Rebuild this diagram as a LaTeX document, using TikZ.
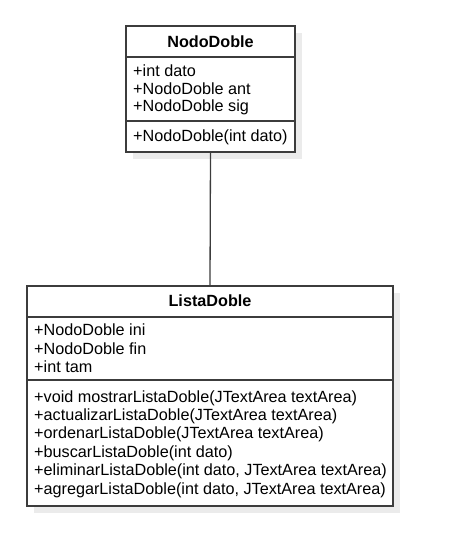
\documentclass[tikz,border=0pt]{standalone}
\usepackage{fontspec}
\setmainfont{Liberation Sans}
\usetikzlibrary{shadows}
\definecolor{edge}{HTML}{3C3C3C}
\definecolor{shade}{HTML}{EBEBEB}
\begin{document}
\begin{tikzpicture}[x=1pt,y=-1pt,
  box/.style={draw=edge, line width=1.3pt, fill=white, inner sep=0pt,
    drop shadow={shadow xshift=7pt, shadow yshift=-7pt, fill=shade, opacity=1}},
  title/.style={font=\fontsize{16.2}{18}\selectfont\bfseries, inner sep=0pt},
  member/.style={font=\fontsize{16.2}{18}\selectfont, anchor=west, inner sep=0pt},
  sep/.style={draw=edge, line width=1.3pt}]
\useasboundingbox (0,0) rectangle (460,553);
% NodoDoble
\node[box, minimum width=169pt, minimum height=126pt] (nodo) at (210.5,89) {};
\node[title] (nt) at (210.5,42) {NodoDoble};
\coordinate (n1a) at (126,57); \coordinate (n1b) at (295,57);
\coordinate (n2a) at (126,121); \coordinate (n2b) at (295,121);
\draw[sep] (n1a) -- (n1b);
\draw[sep] (n2a) -- (n2b);
\node[member] (na1) at (133,71) {+int dato};
\node[member] (na2) at (133,89) {+NodoDoble ant};
\node[member] (na3) at (133,107) {+NodoDoble sig};
\node[member] (nm1) at (133,137) {+NodoDoble(int dato)};
% ListaDoble
\node[box, minimum width=366pt, minimum height=220pt] (lista) at (210,396) {};
\node[title] (lt) at (210,301) {ListaDoble};
\coordinate (l1a) at (27,317); \coordinate (l1b) at (393,317);
\coordinate (l2a) at (27,380); \coordinate (l2b) at (393,380);
\draw[sep] (l1a) -- (l1b);
\draw[sep] (l2a) -- (l2b);
\node[member] (la1) at (34,330) {+NodoDoble ini};
\node[member] (la2) at (34,349) {+NodoDoble fin};
\node[member] (la3) at (34,367) {+int tam};
\node[member] (lm1) at (34,398) {+void mostrarListaDoble(JTextArea textArea)};
\node[member] (lm2) at (34,416.4) {+actualizarListaDoble(JTextArea textArea)};
\node[member] (lm3) at (34,434.8) {+ordenarListaDoble(JTextArea textArea)};
\node[member] (lm4) at (34,453.2) {+buscarListaDoble(int dato)};
\node[member] (lm5) at (34,471.6) {+eliminarListaDoble(int dato, JTextArea textArea)};
\node[member] (lm6) at (34,490) {+agregarListaDoble(int dato, JTextArea textArea)};
% connector
\draw[sep] (nodo.south) -- (lista.north);
\end{tikzpicture}
\end{document}
